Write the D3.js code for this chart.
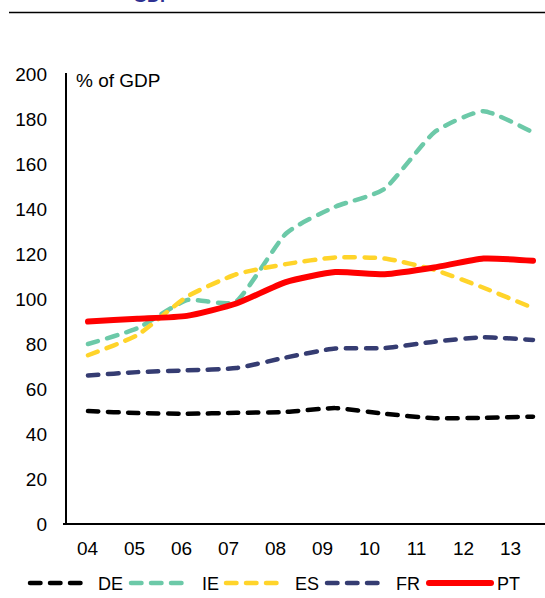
<!DOCTYPE html>
<html>
<head>
<meta charset="utf-8">
<script src="https://cdn.jsdelivr.net/npm/d3@7"></script>
<style>
  html, body { margin: 0; padding: 0; background: #fff; }
  svg { display: block; font-family: "Liberation Sans", Arial, sans-serif; }
</style>
</head>
<body>
<svg id="chart" width="545" height="598"></svg>
<script>
const years = ["04", "05", "06", "07", "08", "09", "10", "11", "12", "13"];
const yTicks = [0, 20, 40, 60, 80, 100, 120, 140, 160, 180, 200];
const seriesNames = ["DE", "IE", "ES", "FR", "PT"];
const DE = [50.2, 49.3, 49, 49.4, 49.8, 51.5, 49, 47, 47.2, 47.7];
const IE = [80, 87, 99.5, 99, 129, 141, 149, 174, 183.5, 174];
const ES = [75, 84, 101, 111, 115.5, 118.5, 118, 113, 105, 96];
const FR = [66, 67.5, 68.3, 69.3, 74, 78, 78.2, 81, 83, 81.8];
const PT = [90, 91.2, 92.5, 98, 107.5, 112, 111, 114, 118, 117];
const colors = ["#000000", "#6CC9A8", "#FFD42A", "#353C72", "#FF0000"];

const seriesValues = [DE, IE, ES, FR, PT];

const svg = d3.select("#chart");

// header remnant
svg.append("text").attr("x", 133).attr("y", 2).attr("fill", "#2E3192")
  .attr("font-size", 18).attr("font-weight", "bold").text("GDP");
svg.append("line").attr("x1", 9).attr("x2", 545).attr("y1", 12.5).attr("y2", 12.5)
  .attr("stroke", "#000").attr("stroke-width", 1.3);

const y = d3.scaleLinear().domain([0, 200]).range([524, 74]);
const xLine = d3.scalePoint().domain(years).range([88, 533]);
const xLabel = d3.scalePoint().domain(years).range([87, 510]);

// y axis
const yAxis = svg.append("g").attr("transform", "translate(47,0)")
  .call(d3.axisLeft(y).tickValues(yTicks).tickSize(0).tickPadding(0));
yAxis.select(".domain").remove();
yAxis.selectAll("text").attr("font-size", 19).attr("fill", "#000")
  .attr("font-family", "Liberation Sans, Arial, sans-serif");

// x axis labels
const xAxis = svg.append("g").attr("transform", "translate(0,541)")
  .call(d3.axisBottom(xLabel).tickSize(0).tickPadding(0));
xAxis.select(".domain").remove();
xAxis.selectAll("text").attr("font-size", 19).attr("fill", "#000")
  .attr("font-family", "Liberation Sans, Arial, sans-serif");

// axis lines
svg.append("line").attr("x1", 66).attr("x2", 66).attr("y1", 73).attr("y2", 525)
  .attr("stroke", "#000").attr("stroke-width", 2);
svg.append("line").attr("x1", 63).attr("x2", 545).attr("y1", 524).attr("y2", 524)
  .attr("stroke", "#000").attr("stroke-width", 2);

svg.append("text").attr("x", 76).attr("y", 87).attr("font-size", 19).attr("fill", "#000")
  .text("% of GDP");

const line = d3.line()
  .x((d, i) => xLine(years[i]))
  .y(d => y(d))
  .curve(d3.curveCardinal.tension(0.45));

seriesNames.forEach((name, k) => {
  const solid = name === "PT";
  svg.append("path")
    .datum(seriesValues[k])
    .attr("d", line)
    .attr("fill", "none")
    .attr("stroke", colors[k])
    .attr("stroke-width", solid ? 6 : 4.5)
    .attr("stroke-linecap", "round")
    .attr("stroke-linejoin", "round")
    .attr("stroke-dasharray", solid ? null : "10.5,9.5");
});

// legend
const legendItems = [
  { x1: 30, x2: 85, tx: 98 },
  { x1: 131, x2: 187, tx: 202 },
  { x1: 226, x2: 282, tx: 295 },
  { x1: 327, x2: 382, tx: 396 },
  { x1: 429, x2: 491, tx: 497 }
];
const legY = 583;
seriesNames.forEach((name, k) => {
  const it = legendItems[k];
  const solid = name === "PT";
  svg.append("line").attr("x1", it.x1).attr("x2", it.x2).attr("y1", legY).attr("y2", legY)
    .attr("stroke", colors[k]).attr("stroke-width", solid ? 6 : 4.5)
    .attr("stroke-linecap", "round")
    .attr("stroke-dasharray", solid ? null : "10.5,9.5");
  svg.append("text").attr("x", it.tx).attr("y", legY + 6.5).attr("font-size", 18)
    .attr("fill", "#000").text(name);
});
</script>
</body>
</html>
